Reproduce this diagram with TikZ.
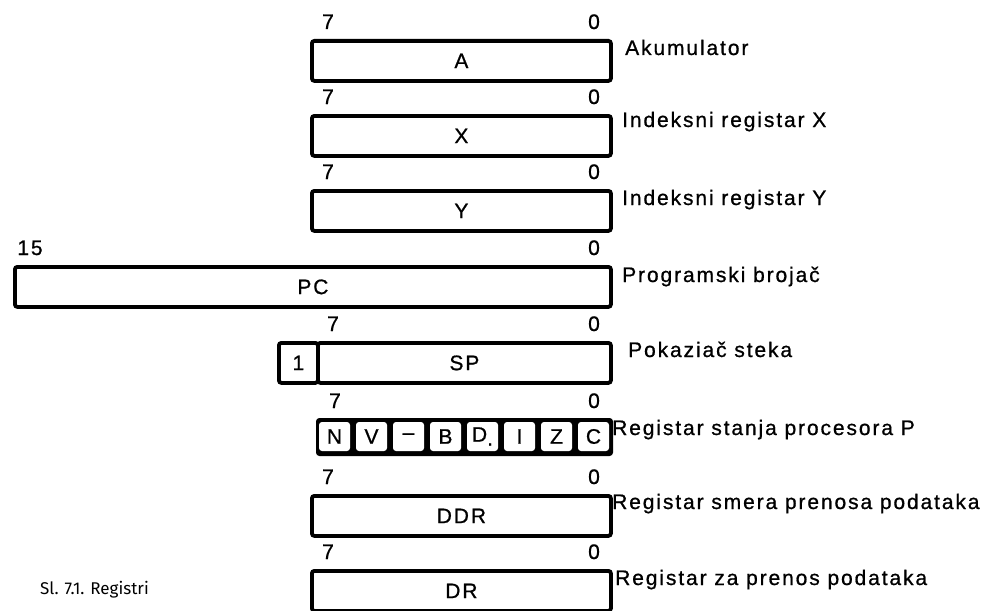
\documentclass[tikz,border=0pt]{standalone}
\usepackage{fontspec}
\setmainfont{Liberation Sans}[LetterSpace=9, FakeBold=0.8]
\newfontfamily\capfont{Fira Sans}
\begin{document}
\begin{tikzpicture}[x=1pt,y=-1pt,
  reg/.style={draw, line width=3.8pt, rounded corners=2.5pt, inner sep=0pt,
    anchor=north west, minimum height=40pt, font=\fontsize{21}{23}\selectfont},
  bitlbl/.style={anchor=base, inner sep=0pt, font=\fontsize{21}{23}\selectfont},
  desc/.style={anchor=base west, inner sep=0pt, font=\fontsize{21}{23}\selectfont},
  flagframe/.style={draw, fill=black, line width=1pt, rounded corners=3pt, inner sep=0pt,
    anchor=north west, minimum width=296pt, minimum height=37pt},
  flag/.style={fill=white, rounded corners=3pt, inner sep=0pt, minimum width=31pt,
    minimum height=29pt, font=\fontsize{21}{23}\selectfont}]
\useasboundingbox (0,0) rectangle (1000,610);
% A
\node[reg, minimum width=299pt] (A) at (310,39) {A};
\node[bitlbl] (a7) at (328,29) {7};
\node[bitlbl] (a0) at (594,29) {0};
\node[desc] (dA) at (625,55) {Akumulator};
% X
\node[reg, minimum width=299pt] (X) at (310,114) {X};
\node[bitlbl] (x7) at (328,104) {7};
\node[bitlbl] (x0) at (594,104) {0};
\node[desc] (dX) at (622,127) {Indeksni registar X};
% Y
\node[reg, minimum width=299pt] (Y) at (310,189) {Y};
\node[bitlbl] (y7) at (328,179) {7};
\node[bitlbl] (y0) at (594,179) {0};
\node[desc] (dY) at (622,205) {Indeksni registar Y};
% PC
\node[reg, minimum width=596pt] (PC) at (13,265) {PC};
\node[bitlbl] (p15) at (30,255) {15};
\node[bitlbl] (p0) at (594,255) {0};
\node[desc] (dPC) at (622,282) {Programski brojač};
% SP
\node[reg, minimum width=39pt] (S1) at (277,341) {1};
\node[reg, minimum width=293pt] (SP) at (316,341) {SP};
\node[bitlbl] (s7) at (333,331) {7};
\node[bitlbl] (s0) at (594,331) {0};
\node[desc] (dSP) at (628,357) {Pokaziač steka};
% P
\node[flagframe] (P) at (316,418) {};
\node[bitlbl] (f7) at (335,408) {7};
\node[bitlbl] (f0) at (594,408) {0};
\node[flag] (fN) at (334.5,436.5) {N};
\node[flag] (fV) at (371.5,436.5) {V};
\node[flag] (fM) at (408.5,436.5) {--};
\node[flag] (fB) at (445.5,436.5) {B};
\node[flag] (fD) at (482.5,436.5) {D\raisebox{-4pt}{.}};
\node[flag] (fI) at (519.5,436.5) {I};
\node[flag] (fZ) at (556.5,436.5) {Z};
\node[flag] (fC) at (593.5,436.5) {C};
\node[desc] (dP) at (612,435) {Registar stanja procesora P};
% DDR
\node[reg, minimum width=299pt] (DDR) at (310,494) {DDR};
\node[bitlbl] (d7) at (328,484) {7};
\node[bitlbl] (d0) at (594,484) {0};
\node[desc] (dDDR) at (612,509) {Registar smera prenosa podataka};
% DR
\node[reg, minimum width=299pt] (DR) at (310,569) {DR};
\node[bitlbl] (r7) at (328,559) {7};
\node[bitlbl] (r0) at (594,559) {0};
\node[desc] (dDR) at (615,585) {Registar za prenos podataka};
% caption
\node[anchor=base west, inner sep=0pt, font=\capfont\fontsize{17}{19}\selectfont] (cap) at (40,594) {Sl. 7.1. Registri};
\end{tikzpicture}
\end{document}
